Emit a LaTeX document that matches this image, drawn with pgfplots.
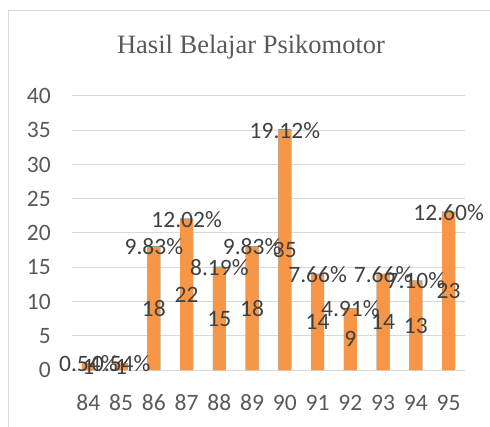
\documentclass[border=0pt]{standalone}
\usepackage{pgfplots}
\pgfplotsset{compat=1.18}
\usepackage{pgfplotstable}
\usepackage{fontspec}
\setmainfont{Carlito}
\newfontfamily\titlefont{Liberation Serif}
\definecolor{barorange}{HTML}{F79646}
\definecolor{barblue}{HTML}{4BACC6}
\definecolor{gridc}{HTML}{D9D9D9}
\definecolor{tickc}{HTML}{595959}
\definecolor{labc}{HTML}{404040}

\pgfplotstableread{
x val top mid pct
0 1 1.0054 0.5 0.54
1 1 1.0054 0.5 0.54
2 18 18.0983 9 9.83
3 22 22.1202 11 12.02
4 15 15.0819 7.5 8.19
5 18 18.0983 9 9.83
6 35 35.1912 17.5 19.12
7 14 14.0766 7 7.66
8 9 9.0491 4.5 4.91
9 14 14.0766 7 7.66
10 13 13.0710 6.5 7.10
11 23 23.1260 11.5 12.60
}\data

\begin{document}
\begin{tikzpicture}[x=1pt,y=1pt]
\useasboundingbox (0,0) rectangle (490,426);
\draw[gridc, line width=1pt] (8,-5) -- (8,415) -- (500,415);
\node[font=\titlefont\fontsize{26.5}{32}\selectfont, text=tickc] at (251,379) {Hasil Belajar Psikomotor};
\begin{axis}[
  at={(72pt,56pt)}, anchor=south west,
  scale only axis, width=393pt, height=274pt,
  xmin=-0.5, xmax=11.5, ymin=0, ymax=40,
  ytick={0,5,10,15,20,25,30,35,40},
  xtick={0,1,2,3,4,5,6,7,8,9,10,11},
  xticklabels={84,85,86,87,88,89,90,91,92,93,94,95},
  /pgf/number format/assume math mode=true,
  ymajorgrids, grid style={gridc, line width=1pt},
  axis line style={draw=none},
  major tick length=0pt, tick style={draw=none},
  clip=false,
  yticklabel style={anchor=east, inner sep=0pt, xshift=-21pt, text=tickc, font=\fontsize{23.5}{28}\selectfont},
  xticklabel style={anchor=base, inner sep=0pt, yshift=-40pt, text=tickc, font=\fontsize{23.5}{28}\selectfont},
]
\addplot[ybar, bar width=13pt, bar shift=0pt, fill=barblue, draw=none] table[x=x,y=top]{\data};
\addplot[ybar, bar width=13pt, bar shift=0pt, fill=barorange, draw=none] table[x=x,y=val]{\data};
\addplot[draw=none, no markers, nodes near coords, point meta=explicit symbolic,
  nodes near coords style={anchor=center, inner sep=0pt, text=labc, font=\fontsize{23.5}{28}\selectfont}]
  table[x=x,y=mid,meta=val]{\data};
\addplot[draw=none, no markers, nodes near coords={\pgfplotspointmeta\%}, point meta=explicit symbolic,
  nodes near coords style={anchor=center, inner sep=0pt, text=labc, font=\fontsize{23.5}{28}\selectfont}]
  table[x=x,y=val,meta=pct]{\data};
\end{axis}
\end{tikzpicture}
\end{document}
